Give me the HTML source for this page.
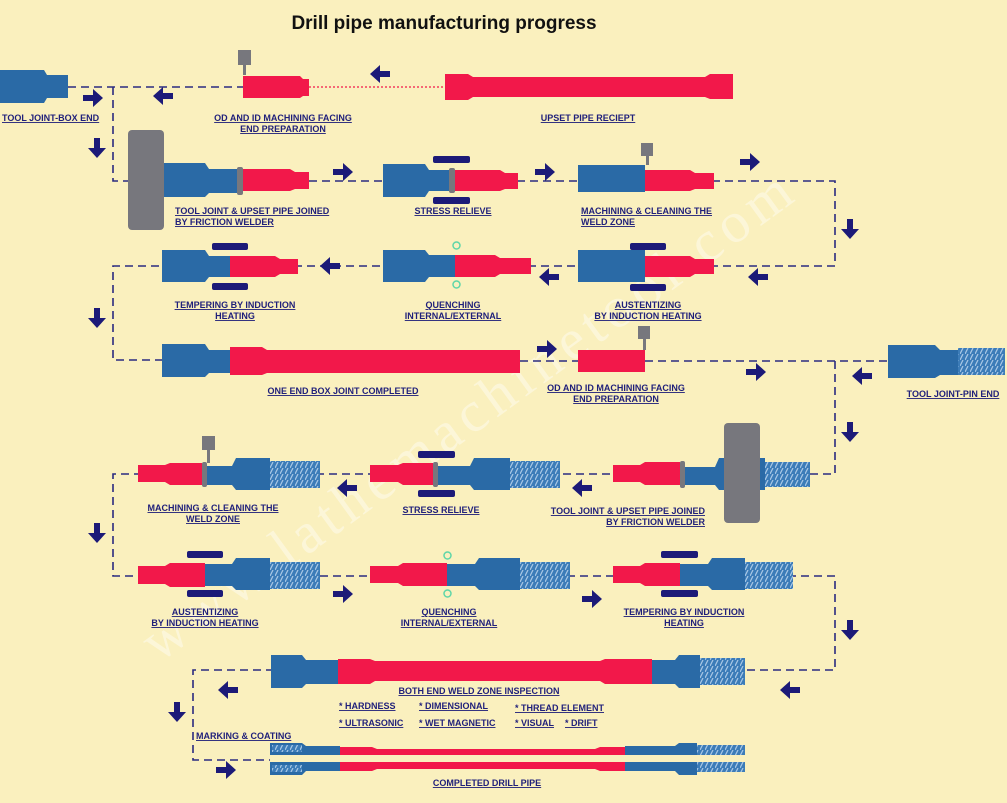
<!DOCTYPE html>
<html><head><meta charset="utf-8"><style>
html,body{margin:0;padding:0;background:#faf0be;}
svg{display:block}
text{font-family:"Liberation Sans",sans-serif;font-weight:bold;fill:#1f1f7a;font-size:9px;text-decoration:underline;}
</style></head><body>
<svg width="1007" height="803" viewBox="0 0 1007 803" xmlns="http://www.w3.org/2000/svg">
<defs>
<path id="ar" d="M-10,-3 h10 v-6 l10,9 -10,9 v-6 h-10z" fill="#1c1a78"/>
<pattern id="th" width="5" height="6" patternUnits="userSpaceOnUse"><rect width="5" height="6" fill="#3c7cb8"/><path d="M0,6 L3,0" stroke="#a9c8e6" stroke-width="1.2"/></pattern>
</defs>
<rect width="1007" height="803" fill="#faf0be"/>
<text x="444" y="29" text-anchor="middle" style="font-size:19px;text-decoration:none;fill:#111">Drill pipe manufacturing progress</text>
<text x="480" y="430" text-anchor="middle" transform="rotate(-36 480 430)" style="font-family:'Liberation Serif',serif;font-weight:normal;font-size:58px;text-decoration:none;fill:#fff;opacity:.4;letter-spacing:6px">www.lathemachinetool.com</text>

<g stroke="#2a2a80" stroke-width="1.6" stroke-dasharray="8,5" fill="none">
<path d="M68,87 H243 M113,87 V181 H130"/>
<path d="M309,181 H835 V266 H113 V360 H162"/>
<path d="M520,361 H578 M645,361 H888 M835,361 V474 H113 V576 H835 V670 H193 V760 H270"/>
</g>
<path d="M309,87 H445" stroke="#f2184a" stroke-width="1.2" stroke-dasharray="2,2"/>

<g fill="#2a6aa6">
<path d="M0,70 H44 L47,75 H68 V98 H47 L44,103 H0z"/>
<path d="M163,163 H205 L209,169 H237 V193 H209 L205,197 H163z"/>
<path d="M383,164 H425 L429,170 H449 V191 H429 L425,197 H383z"/>
<path d="M578,165 H645 V192 H578z"/>
<path d="M162,250 H205 L209,256 H230 V277 H209 L205,282 H162z"/>
<path d="M383,250 H425 L429,255 H455 V277 H429 L425,282 H383z"/>
<path d="M578,250 H645 V282 H578z"/>
<path d="M162,344 H205 L209,350 H230 V373 H209 L205,377 H162z"/>
<path d="M888,345 H935 L940,350 H958 V375 H940 L935,378 H888z"/>
<path d="M685,467 H715 L719,458 H765 V490 H719 L715,485 H685z"/>
<path d="M438,466 H470 L474,458 H510 V490 H474 L470,485 H438z"/>
<path d="M207,466 H232 L236,458 H270 V490 H236 L232,485 H207z"/>
<path d="M205,564 H232 L236,558 H270 V590 H236 L232,586 H205z"/>
<path d="M447,564 H475 L479,558 H520 V590 H479 L475,586 H447z"/>
<path d="M680,564 H708 L712,558 H745 V590 H712 L708,586 H680z"/>
<path d="M271,655 H302 L306,660 H340 V684 H306 L302,688 H271z"/>
<path d="M652,660 H675 L679,655 H700 V688 H679 L675,684 H652z"/>
<path d="M270,743 H302 L306,746 H340 V755 H270z M270,762 H340 V771 H306 L302,775 H270z"/>
<path d="M625,746 H675 L679,743 H697 V755 H625z M625,762 H697 V775 H679 L675,771 H625z"/>
</g>
<g fill="url(#th)">
<rect x="958" y="348" width="47" height="27"/>
<rect x="765" y="462" width="45" height="25"/>
<rect x="510" y="461" width="50" height="27"/>
<rect x="270" y="461" width="50" height="27"/>
<rect x="270" y="562" width="50" height="27"/>
<rect x="520" y="562" width="50" height="27"/>
<rect x="745" y="562" width="48" height="27"/>
<rect x="700" y="658" width="45" height="27"/>
<rect x="697" y="745" width="48" height="10"/><rect x="697" y="762" width="48" height="10"/>
<rect x="272" y="745" width="30" height="7"/><rect x="272" y="765" width="30" height="7"/>
</g>

<g fill="#f2184a">
<path d="M243,76 H300 L303,79 H309 V96 H303 L300,98 H243z"/>
<path d="M445,74 H468 L473,77 H705 L710,74 H733 V99 H710 L705,97 H473 L468,100 H445z"/>
<path d="M243,169 H290 L295,172 H309 V189 H295 L290,191 H243z"/>
<path d="M455,170 H500 L505,173 H518 V189 H505 L500,191 H455z"/>
<path d="M645,170 H690 L695,173 H714 V189 H695 L690,191 H645z"/>
<path d="M230,256 H275 L280,259 H298 V274 H280 L275,277 H230z"/>
<path d="M455,255 H495 L500,258 H531 V274 H500 L495,277 H455z"/>
<path d="M645,256 H690 L695,259 H714 V274 H695 L690,277 H645z"/>
<path d="M230,347 H262 L267,350 H520 V373 H267 L262,375 H230z"/>
<path d="M578,350 H645 V372 H578z"/>
<path d="M613,465 H640 L645,462 H680 V485 H645 L640,482 H613z"/>
<path d="M370,465 H398 L403,463 H433 V485 H403 L398,482 H370z"/>
<path d="M138,465 H165 L170,463 H202 V485 H170 L165,482 H138z"/>
<path d="M138,566 H165 L170,563 H205 V587 H170 L165,584 H138z"/>
<path d="M370,566 H398 L403,563 H447 V586 H403 L398,583 H370z"/>
<path d="M613,566 H640 L645,563 H680 V586 H645 L640,583 H613z"/>
<path d="M338,659 H370 L375,661 H600 L605,659 H652 V684 H605 L600,681 H375 L370,684 H338z"/>
<path d="M340,747 H372 L377,749 H595 L600,747 H625 V755 H340z M340,762 H625 V771 H600 L595,769 H377 L372,771 H340z"/>
</g>

<g fill="#77777d">
<rect x="128" y="130" width="36" height="100" rx="4"/>
<rect x="724" y="423" width="36" height="100" rx="4"/>
<rect x="237" y="167" width="6" height="28" rx="2"/>
<rect x="449" y="168" width="6" height="25" rx="2"/>
<rect x="680" y="461" width="5" height="27" rx="2"/>
<rect x="433" y="462" width="5" height="25" rx="2"/>
<rect x="202" y="462" width="5" height="25" rx="2"/>
<rect x="238" y="50" width="13" height="15"/><rect x="243" y="64" width="3" height="11"/>
<rect x="641" y="143" width="12" height="13"/><rect x="646" y="155" width="3" height="10"/>
<rect x="638" y="326" width="12" height="13"/><rect x="643" y="338" width="3" height="12"/>
<rect x="202" y="436" width="13" height="14"/><rect x="207" y="449" width="3" height="14"/>
</g>

<g fill="#1c1a78">
<rect x="433" y="156" width="37" height="7" rx="2"/><rect x="433" y="197" width="37" height="7" rx="2"/>
<rect x="630" y="243" width="36" height="7" rx="2"/><rect x="630" y="284" width="36" height="7" rx="2"/>
<rect x="212" y="243" width="36" height="7" rx="2"/><rect x="212" y="283" width="36" height="7" rx="2"/>
<rect x="418" y="451" width="37" height="7" rx="2"/><rect x="418" y="490" width="37" height="7" rx="2"/>
<rect x="187" y="551" width="36" height="7" rx="2"/><rect x="187" y="590" width="36" height="7" rx="2"/>
<rect x="661" y="551" width="37" height="7" rx="2"/><rect x="661" y="590" width="37" height="7" rx="2"/>
</g>
<g fill="none" stroke="#5fd6a8" stroke-width="1.5">
<rect x="453" y="242" width="7" height="7" rx="3.5"/><rect x="453" y="281" width="7" height="7" rx="3.5"/>
<rect x="444" y="552" width="7" height="7" rx="3.5"/><rect x="444" y="590" width="7" height="7" rx="3.5"/>
</g>

<use href="#ar" x="93" y="98"/>
<use href="#ar" transform="translate(163,96) rotate(180)"/>
<use href="#ar" transform="translate(97,148) rotate(90)"/>
<use href="#ar" transform="translate(380,74) rotate(180)"/>
<use href="#ar" x="343" y="172"/>
<use href="#ar" x="545" y="172"/>
<use href="#ar" x="750" y="162"/>
<use href="#ar" transform="translate(850,229) rotate(90)"/>
<use href="#ar" transform="translate(758,277) rotate(180)"/>
<use href="#ar" transform="translate(549,277) rotate(180)"/>
<use href="#ar" transform="translate(330,266) rotate(180)"/>
<use href="#ar" transform="translate(97,318) rotate(90)"/>
<use href="#ar" x="547" y="349"/>
<use href="#ar" x="756" y="372"/>
<use href="#ar" transform="translate(862,376) rotate(180)"/>
<use href="#ar" transform="translate(850,432) rotate(90)"/>
<use href="#ar" transform="translate(582,488) rotate(180)"/>
<use href="#ar" transform="translate(347,488) rotate(180)"/>
<use href="#ar" transform="translate(97,533) rotate(90)"/>
<use href="#ar" x="343" y="594"/>
<use href="#ar" x="592" y="599"/>
<use href="#ar" transform="translate(850,630) rotate(90)"/>
<use href="#ar" transform="translate(790,690) rotate(180)"/>
<use href="#ar" transform="translate(228,690) rotate(180)"/>
<use href="#ar" transform="translate(177,712) rotate(90)"/>
<use href="#ar" x="226" y="770"/>

<text x="2" y="121">TOOL JOINT-BOX END</text>
<text x="283" y="121" text-anchor="middle">OD AND ID MACHINING FACING</text>
<text x="283" y="132" text-anchor="middle">END PREPARATION</text>
<text x="588" y="121" text-anchor="middle">UPSET PIPE RECIEPT</text>
<text x="175" y="214">TOOL JOINT &amp; UPSET PIPE JOINED</text>
<text x="175" y="225">BY FRICTION WELDER</text>
<text x="453" y="214" text-anchor="middle">STRESS RELIEVE</text>
<text x="581" y="214">MACHINING &amp; CLEANING THE</text>
<text x="581" y="225">WELD ZONE</text>
<text x="235" y="308" text-anchor="middle">TEMPERING BY INDUCTION</text>
<text x="235" y="319" text-anchor="middle">HEATING</text>
<text x="453" y="308" text-anchor="middle">QUENCHING</text>
<text x="453" y="319" text-anchor="middle">INTERNAL/EXTERNAL</text>
<text x="648" y="308" text-anchor="middle">AUSTENTIZING</text>
<text x="648" y="319" text-anchor="middle">BY INDUCTION HEATING</text>
<text x="343" y="394" text-anchor="middle">ONE END BOX JOINT COMPLETED</text>
<text x="616" y="391" text-anchor="middle">OD AND ID MACHINING FACING</text>
<text x="616" y="402" text-anchor="middle">END PREPARATION</text>
<text x="953" y="397" text-anchor="middle">TOOL JOINT-PIN END</text>
<text x="213" y="511" text-anchor="middle">MACHINING &amp; CLEANING THE</text>
<text x="213" y="522" text-anchor="middle">WELD ZONE</text>
<text x="441" y="513" text-anchor="middle">STRESS RELIEVE</text>
<text x="705" y="514" text-anchor="end">TOOL JOINT &amp; UPSET PIPE JOINED</text>
<text x="705" y="525" text-anchor="end">BY FRICTION WELDER</text>
<text x="205" y="615" text-anchor="middle">AUSTENTIZING</text>
<text x="205" y="626" text-anchor="middle">BY INDUCTION HEATING</text>
<text x="449" y="615" text-anchor="middle">QUENCHING</text>
<text x="449" y="626" text-anchor="middle">INTERNAL/EXTERNAL</text>
<text x="684" y="615" text-anchor="middle">TEMPERING BY INDUCTION</text>
<text x="684" y="626" text-anchor="middle">HEATING</text>
<text x="479" y="694" text-anchor="middle">BOTH END WELD ZONE INSPECTION</text>
<text x="339" y="709">* HARDNESS</text>
<text x="419" y="709">* DIMENSIONAL</text>
<text x="515" y="711">* THREAD ELEMENT</text>
<text x="339" y="726">* ULTRASONIC</text>
<text x="419" y="726">* WET MAGNETIC</text>
<text x="515" y="726">* VISUAL</text>
<text x="565" y="726">* DRIFT</text>
<text x="196" y="739">MARKING &amp; COATING</text>
<text x="487" y="786" text-anchor="middle">COMPLETED DRILL PIPE</text>
</svg>
</body></html>
